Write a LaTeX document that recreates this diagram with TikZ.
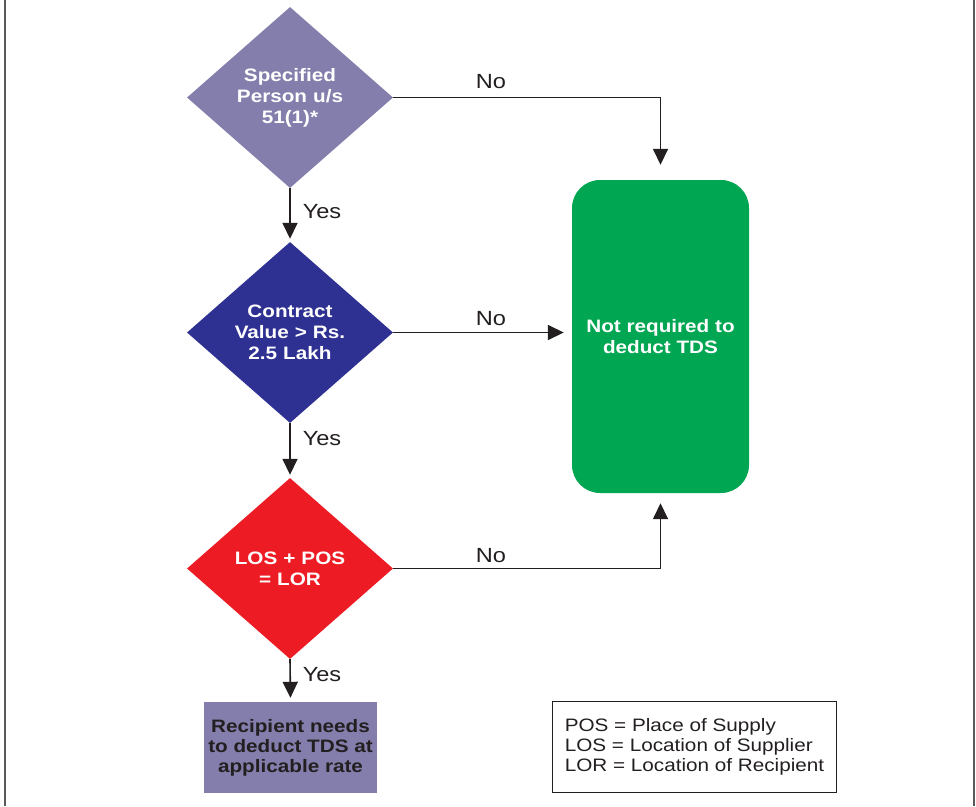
\documentclass[tikz,border=0pt]{standalone}
\usepackage{fontspec}
\setmainfont{Liberation Sans}[FakeStretch=1.15]
\usetikzlibrary{shapes.geometric,arrows.meta,calc}
\definecolor{ink}{HTML}{231F20}
\definecolor{lilac}{HTML}{837EAB}
\definecolor{navy}{HTML}{2E3192}
\definecolor{redd}{HTML}{ED1C24}
\definecolor{greenb}{HTML}{00A651}
\tikzset{
  dec/.style={diamond, aspect=1.138, minimum width=206pt, minimum height=181pt, inner sep=0pt,
    text=white, font=\bfseries\fontsize{18}{21}\selectfont, align=center, text width=120pt},
  conn/.style={draw=ink, line width=1.6pt, -{Triangle[length=16pt,width=15pt]}},
  lbl/.style={text=ink, font=\fontsize{20.5}{22}\selectfont, inner sep=0pt},
}
\begin{document}
\begin{tikzpicture}[x=1pt,y=-1pt]
\useasboundingbox (0,0) rectangle (976,806);
\draw[gray!70!black, line width=2pt] (4.5,0) -- (4.5,806);
\draw[gray!70!black, line width=2pt] (973.5,0) -- (973.5,806);

\node[dec, fill=lilac] (d1) at (290,97.5) {Specified\\Person u/s\\51(1)*};
\node[dec, fill=navy] (d2) at (290,332.5) {Contract\\Value > Rs.\\2.5 Lakh};
\node[dec, fill=redd] (d3) at (290,568.5) {LOS + POS\\= LOR};

\node[fill=greenb, rounded corners=28pt, minimum width=177pt, minimum height=313pt, inner sep=0pt,
  text=white, font=\bfseries\fontsize{18}{21}\selectfont, align=center] (g) at (660.5,336.5)
  {Not required to\\deduct TDS};

\node[fill=lilac, minimum width=173pt, minimum height=91pt, inner sep=0pt,
  text=ink, font=\bfseries\fontsize{18}{20}\selectfont, align=center] (r) at (290.5,747.5)
  {Recipient needs\\to deduct TDS at\\applicable rate};

\node[draw=ink, line width=1pt, minimum width=284pt, minimum height=91pt, inner sep=0pt] (lg) at (694,746.5) {};
\node[text=ink, font=\fontsize{18}{20}\selectfont, align=left, inner sep=0pt] (lgt) at (694.5,747)
  {POS = Place of Supply\\LOS = Location of Supplier\\LOR = Location of Recipient};

\draw[conn, shorten >=3pt] (d1.south) -- (d2.north);
\draw[conn, shorten >=3pt] (d2.south) -- (d3.north);
\draw[conn, shorten >=4pt] (d3.south) -- (r.north);

\draw[conn, shorten >=15pt] (d1.east) -| (g.north);
\draw[conn, shorten >=8pt] (d2.east) -- (d2.east -| g.west);
\draw[conn, shorten >=10pt] (d3.east) -| (g.south);

\node[lbl] (y1) at (322,212) {Yes};
\node[lbl] (y2) at (322,439) {Yes};
\node[lbl] (y3) at (322,675) {Yes};
\node[lbl] (n1) at (491,82) {No};
\node[lbl] (n2) at (491,319) {No};
\node[lbl] (n3) at (491,556) {No};
\end{tikzpicture}
\end{document}
